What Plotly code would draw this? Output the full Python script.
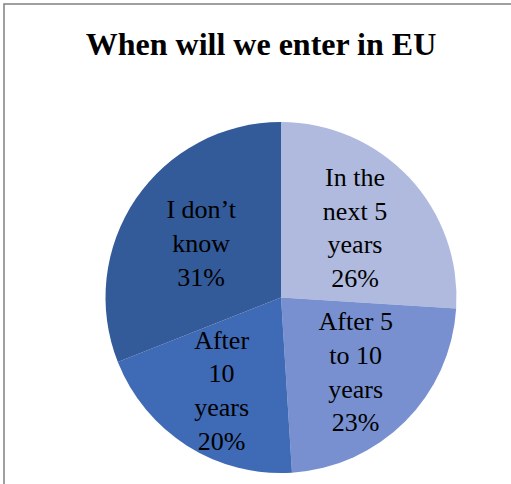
import textwrap
import plotly.graph_objects as go

title = "When will we enter in EU"
labels = ["In the next 5 years", "After 5 to 10 years", "After 10 years", "I don’t know"]
values = [26, 23, 20, 31]
colors = ["#AFBADE", "#7890CF", "#3F6AB6", "#335A99"]

wrapped = ["<br>".join(textwrap.wrap(l, 7)) for l in labels]

W, H = 511, 484
cx0, cx1 = 105 / W, 457 / W
cy0, cy1 = (H - 473) / H, (H - 122) / H

serif = "Liberation Serif"
label_font = dict(family=serif, size=26, color="black")

fig = go.Figure(go.Pie(
    labels=labels,
    values=values,
    text=wrapped,
    texttemplate="%{text}<br>%{percent:.0%}",
    textposition="inside",
    insidetextorientation="horizontal",
    textfont=label_font,
    insidetextfont=label_font,
    marker=dict(colors=colors, line=dict(width=0)),
    sort=False,
    direction="clockwise",
    rotation=0,
    hoverinfo="label+percent",
    domain=dict(x=[cx0, cx1], y=[cy0, cy1]),
    showlegend=False,
))

fig.update_layout(
    width=W, height=H,
    margin=dict(l=0, r=0, t=0, b=0),
    paper_bgcolor="white",
    font=dict(family=serif),
    title=dict(text="<b>" + title + "</b>", x=261 / W, xanchor="center", y=1 - 44 / H, yanchor="middle",
               font=dict(family=serif, size=32, color="black")),
    uniformtext=dict(minsize=26, mode="show"),
    shapes=[dict(type="rect", xref="paper", yref="paper", x0=4 / W, x1=1.02, y0=-0.02, y1=1 - 4 / H,
                 line=dict(color="#808080", width=1.5), fillcolor="rgba(0,0,0,0)", layer="below")],
)

fig.write_html("out.html")
